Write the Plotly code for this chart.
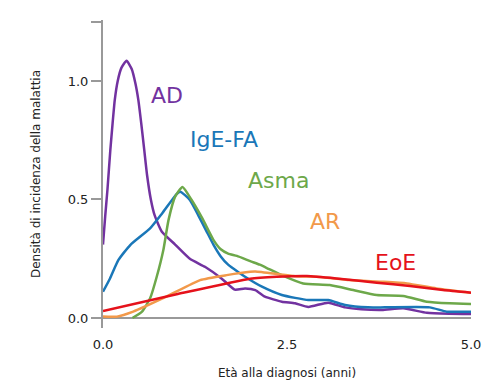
import plotly.graph_objects as go

# ---- data ----
ad_x = [0, 0.03, 0.06, 0.1, 0.13, 0.16, 0.2, 0.25, 0.32, 0.39, 0.44, 0.48, 0.52, 0.56, 0.6, 0.65, 0.7, 0.8, 0.98,
        1.18, 1.39, 1.61, 1.79, 1.93, 2.07, 2.2, 2.43, 2.61, 2.79, 3.06, 3.29, 3.51, 3.79, 4.08, 4.4, 4.7, 5.0]
ad_y = [0.31, 0.43, 0.54, 0.71, 0.82, 0.92, 1.0, 1.055, 1.085, 1.05, 0.99, 0.92, 0.82, 0.71, 0.6, 0.5, 0.435, 0.364, 0.31,
        0.25, 0.215, 0.167, 0.12, 0.125, 0.118, 0.09, 0.069, 0.062, 0.047, 0.065, 0.045, 0.037, 0.034, 0.041, 0.022, 0.018, 0.017]

ige_x = [0, 0.095, 0.21, 0.37, 0.64, 0.8, 1.0, 1.05, 1.18, 1.3, 1.4, 1.5, 1.6, 1.7, 1.86, 1.93,
         2.16, 2.43, 2.61, 2.79, 3.06, 3.29, 3.6, 3.83, 4.44, 4.67, 5.0]
ige_y = [0.111, 0.167, 0.245, 0.308, 0.378, 0.44, 0.523, 0.533, 0.498, 0.43, 0.37, 0.31, 0.26, 0.225, 0.189, 0.174,
         0.132, 0.097, 0.085, 0.076, 0.076, 0.055, 0.045, 0.045, 0.045, 0.027, 0.027]

asma_x = [0.4, 0.53, 0.64, 0.73, 0.82, 0.89, 0.98, 1.08, 1.2, 1.35, 1.5, 1.6, 1.7, 1.82, 2.0, 2.13,
          2.22, 2.45, 2.72, 3.08, 3.4, 3.72, 4.08, 4.4, 4.71, 5.0]
asma_y = [0.0, 0.027, 0.083, 0.174, 0.287, 0.413, 0.512, 0.553, 0.5, 0.42, 0.33, 0.29, 0.272, 0.262, 0.24, 0.225,
          0.212, 0.178, 0.146, 0.139, 0.118, 0.097, 0.093, 0.069, 0.062, 0.059]

ar_x = [0, 0.19, 0.41, 0.86, 1.32, 1.68, 2.0, 2.07, 2.38, 2.61, 2.9, 3.35, 3.81, 4.13, 4.53, 5.0]
ar_y = [0.006, 0.006, 0.027, 0.09, 0.16, 0.181, 0.195, 0.196, 0.185, 0.176, 0.174, 0.16, 0.153, 0.146, 0.125, 0.107]

eoe_x = [0, 1.0, 2.0, 2.36, 2.77, 3.17, 3.72, 4.17, 4.62, 5.0]
eoe_y = [0.03, 0.1, 0.166, 0.174, 0.177, 0.167, 0.149, 0.135, 0.118, 0.107]

series_names = ["AD", "IgE-FA", "Asma", "AR", "EoE"]
series_colors = ["#7232A0", "#1A77B8", "#6DA84A", "#F2994A", "#E5121B"]
label_x = [0.87, 1.64, 2.39, 3.02, 3.98]
label_y = [0.937, 0.751, 0.578, 0.409, 0.236]

x_ticks = [0, 2.5, 5.0]
x_ticktext = ["0.0", "2.5", "5.0"]
y_ticks = [0, 0.5, 1.0, 1.25]
y_ticktext = ["0.0", "0.5", "1.0", ""]

xs = [ad_x, ige_x, asma_x, ar_x, eoe_x]
ys = [ad_y, ige_y, asma_y, ar_y, eoe_y]

font_family = "DejaVu Sans"

fig = go.Figure()
for name, col, x, y in zip(series_names, series_colors, xs, ys):
    fig.add_trace(go.Scatter(x=x, y=y, mode="lines", name=name,
                             line=dict(color=col, width=2.5, shape="spline", smoothing=0.5)))

for name, col, lx, ly in zip(series_names, series_colors, label_x, label_y):
    fig.add_annotation(x=lx, y=ly, text=name, showarrow=False,
                       font=dict(family=font_family, size=22, color=col))

# the page body adds an 8px offset, so margins compensate for it
fig.update_layout(
    width=500, height=389,
    margin=dict(l=95, r=37, t=12, b=69),
    paper_bgcolor="white", plot_bgcolor="white",
    showlegend=False,
    font=dict(family=font_family, size=13, color="#222"),
)
fig.update_xaxes(range=[0, 5], tickvals=x_ticks, ticktext=x_ticktext, showgrid=False,
                 showline=False, zeroline=False, ticks="outside", ticklen=4,
                 tickcolor="rgba(0,0,0,0)", automargin=False,
                 tickfont=dict(size=13, color="#222"),
                 title=dict(text="Età alla diagnosi (anni)", font=dict(size=12, color="#222"), standoff=18))
fig.update_yaxes(range=[-0.042, 1.257], tickvals=y_ticks, ticktext=y_ticktext, showgrid=False,
                 showline=True, linecolor="#999", linewidth=2, ticks="outside", ticklen=10,
                 tickcolor="#999", tickwidth=1.5, automargin=False,
                 tickfont=dict(size=13, color="#222"),
                 zeroline=True, zerolinecolor="#999", zerolinewidth=2,
                 title=dict(text="Densità di incidenza della malattia", font=dict(size=12, color="#222"), standoff=25))

fig.write_html("out.html")
